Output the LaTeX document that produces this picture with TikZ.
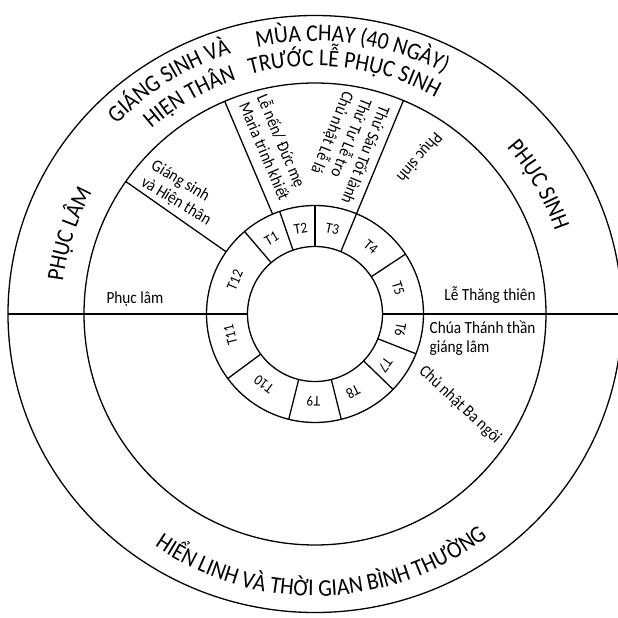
\documentclass[tikz,border=0pt]{standalone}
\usepackage{fontspec}
\setmainfont[FakeStretch=0.9]{Carlito}
\usetikzlibrary{decorations.text}
\newcommand\bigfnt{\fontsize{24}{26}\selectfont}
\newcommand\medfnt{\fontsize{17}{19.5}\selectfont}
\newcommand\tfnt{\fontsize{15}{17}\selectfont}
\begin{document}
\begin{tikzpicture}[x=1pt,y=1pt,line width=1.3pt,
  medlab/.style={font=\medfnt,inner sep=0pt,align=left},
  tlab/.style={font=\tfnt,inner sep=0pt},
  cwtext/.style={decorate,decoration={text along path,text={|\bigfnt|#1},text align=center}},
  ]
\useasboundingbox (-315,-304) rectangle (303,314);
% circles
\draw (0,0) ellipse [x radius=307, y radius=298.5];
\draw (0,0) circle [radius=231];
\draw (0,0) circle [radius=108.5];
\draw (0,0) circle [radius=67.5];
\coordinate (c) at (0,0);
% horizontal diameter
\coordinate (hl1) at (-307,0);
\coordinate (hl2) at (-67.5,0);
\coordinate (hr1) at (67.5,0);
\coordinate (hr2) at (303,0);
\draw (hl1) -- (hl2);
\draw (hr1) -- (hr2);
% middle ring dividers
\foreach \a in {145,113,67.5}
  \draw (\a:108.5) -- (\a:231);
% inner ring dividers
\foreach \a in {33.5,67.5,90,109,130.5,216.5,256,284,316,338.5}
  \draw (\a:67.5) -- (\a:108.5);
% ring labels
\foreach \a/\t in {120/T1,99.5/T2,78.5/T3,50/T4,17/T5,-10.5/T6,-36/T7,-64/T8,-91/T9,-126/T10,-166/T11,157/T12}
  \node[tlab,rotate=\a-90] (lab-\t) at (\a:87) {\t};
% middle labels
\node[medlab,rotate=-31] (gshtl) at (-134,121) {Giáng sinh\\và Hiện thân};
\node[medlab,rotate=-67] (lenen) at (-40.5,167) {Lễ nến/ Đức mẹ\\Maria trinh khiết};
\node[medlab,rotate=-112] (thusau) at (32,166.5) {Thứ Sáu Tốt lành\\Thứ Tư Lễ tro\\Chủ nhật Lễ lá};
\node[medlab,rotate=-131] (phsinh) at (104,157) {Phục sinh};
\node[medlab] (phlam) at (-180,15) {Phục lâm};
\node[medlab] (lethang) at (175,19) {Lễ Thăng thiên};
\node[medlab,anchor=west] (chua) at (114,-24) {Chúa Thánh thần\\giáng lâm};
\node[medlab,rotate=-43] (chunhat) at (145,-91) {Chủ nhật Ba ngôi};
% outer arc texts
\path[cwtext={MÙA CHAY (40 NGÀY)}] (112:273) arc[start angle=112,end angle=52,radius=273];
\path[cwtext={TRƯỚC LỄ PHỤC SINH}] (113:248) arc[start angle=113,end angle=53,radius=248];
\path[cwtext={GIÁNG SINH VÀ}] (147:274) arc[start angle=147,end angle=97,radius=274];
\path[cwtext={HIỆN THÂN}] (145:247) arc[start angle=145,end angle=95,radius=247];
\path[cwtext={PHỤC SINH}] (55:254) arc[start angle=55,end angle=5,radius=254];
\path[cwtext={PHỤC LÂM}] (188:254) arc[start angle=188,end angle=136,radius=254];
\path[cwtext={HIỂN LINH VÀ THỜI GIAN BÌNH THƯỜNG}] (231.5:282) arc[start angle=231.5,end angle=311.5,radius=282];
\end{tikzpicture}
\end{document}
